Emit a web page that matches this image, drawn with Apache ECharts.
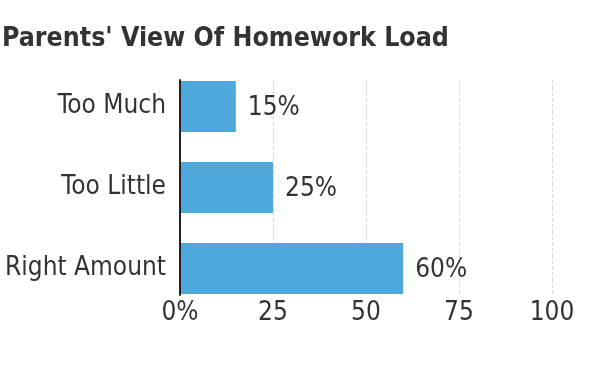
<!DOCTYPE html>
<html><head><meta charset="utf-8">
<script src="https://cdn.jsdelivr.net/npm/echarts@6/dist/echarts.min.js"></script>
<style>html,body{margin:0;padding:0;background:#fff}#c{width:600px;height:375px}</style>
</head><body><div id="c"></div>
<script>
const titleText = "Parents' View Of Homework Load";
const categories = ['Too Much', 'Too Little', 'Right Amount'];
const values = [15, 25, 60];
const tickLabels = ['0%', '25', '50', '75', '100'];

const FONT = "'DejaVu Sans Condensed','Liberation Sans Narrow',sans-serif";
const chart = echarts.init(document.getElementById('c'), null, {renderer: 'canvas'});
chart.setOption({
  animation: false,
  title: {text: titleText, left: 2, top: 26, padding: 0,
    textStyle: {fontFamily: FONT, fontWeight: 'bold', fontSize: 26.5, color: '#333'}},
  grid: [
    {left: 180, right: 48, top: 66, height: 243, outerBoundsMode: 'none', containLabel: false},
    {left: 180, right: 48, top: 80, height: 215, outerBoundsMode: 'none', containLabel: false}
  ],
  xAxis: [
    {gridIndex: 0, type: 'value', min: 0, max: 100, show: false},
    {gridIndex: 1, type: 'value', min: 0, max: 100, interval: 25,
      axisLine: {show: false}, axisTick: {show: false},
      axisLabel: {margin: 5, fontFamily: FONT, fontSize: 26, color: '#333',
        formatter: v => tickLabels[Math.round(v / 25)]},
      splitLine: {show: true, lineStyle: {type: 'dashed', color: '#d8d8d8', width: 1}}}
  ],
  yAxis: [
    {gridIndex: 0, type: 'category', data: categories, inverse: true,
      axisLine: {show: false}, axisTick: {show: false},
      axisLabel: {margin: 14, fontFamily: FONT, fontSize: 26, color: '#333'}},
    {gridIndex: 1, type: 'category', data: categories, inverse: true, z: 5,
      axisLine: {show: true, lineStyle: {color: '#222', width: 2}},
      axisTick: {show: false}, axisLabel: {show: false}, splitLine: {show: false}}
  ],
  series: [{
    type: 'bar', xAxisIndex: 0, yAxisIndex: 0, data: values, barWidth: 51,
    itemStyle: {color: '#4FA8DB'},
    label: {show: true, position: 'right', distance: 12, offset: [0, 2],
      formatter: p => p.value + '%',
      fontFamily: FONT, fontSize: 26, color: '#333'}
  }]
});
</script></body></html>
